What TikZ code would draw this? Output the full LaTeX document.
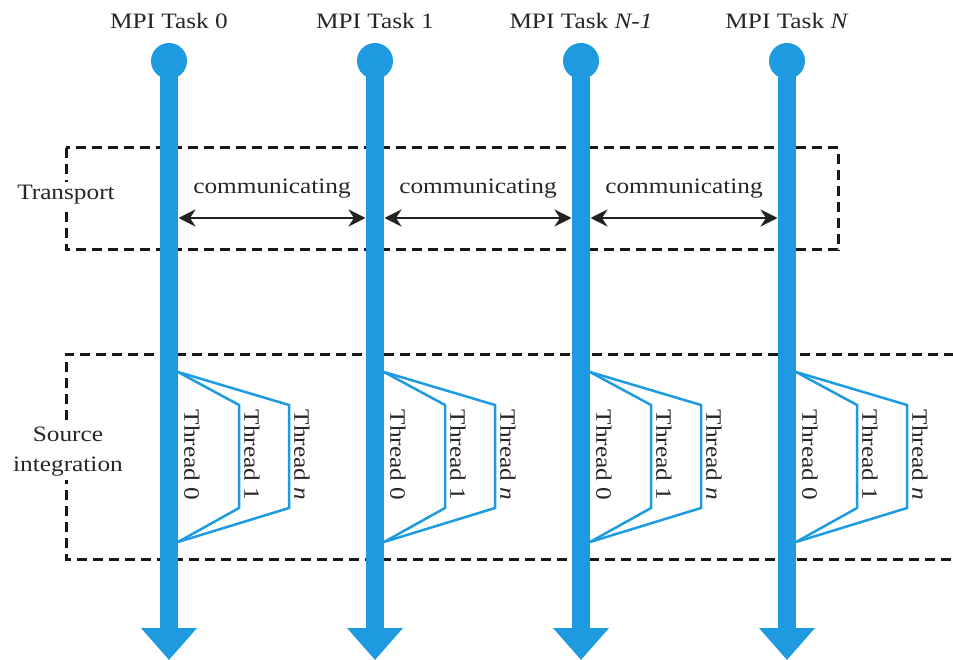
\documentclass[tikz,border=0pt]{standalone}
\usepackage{fontspec}
\setmainfont[FakeStretch=1.15]{Liberation Serif}
\usetikzlibrary{arrows.meta}
\definecolor{mpiblue}{HTML}{1E9BE0}
\definecolor{arrowdark}{HTML}{222222}
\begin{document}
\begin{tikzpicture}[x=1pt,y=-1pt,
  lbl/.style={font=\fontsize{22}{30}\selectfont, inner sep=2pt, text=black!85},
  bglbl/.style={lbl, fill=white, align=center, inner sep=3pt},
  dashbox/.style={line width=3pt, dash pattern=on 10pt off 6pt, black!90},
  taskline/.style={line width=18pt, mpiblue, -{Triangle[width=54pt,length=32pt]}},
  thr/.style={line width=2.5pt, mpiblue, line join=miter},
  comm/.style={line width=2.5pt, arrowdark, {Stealth[length=17pt,width=17pt]}-{Stealth[length=17pt,width=17pt]}},
  thrlbl/.style={lbl, rotate=-90, inner sep=0pt}]
\useasboundingbox (0,0) rectangle (953,660);

% boxes
\draw[dashbox] (66,148) rectangle (838,250);
\draw[dashbox] (970,354) -- (66,354) -- (66,559) -- (970,559);

% task lines
\foreach \i/\x/\lab in {0/169/{MPI Task 0},1/375/{MPI Task 1},2/581/{MPI Task \textit{N-1}},3/787/{MPI Task \textit{N}}}{
  \coordinate (top\i) at (\x,61);
  \coordinate (bot\i) at (\x,660);
  \node[lbl] (title\i) at (\x,21) {\lab};
  \draw[taskline] (top\i) -- (bot\i);
  \fill[mpiblue] (top\i) circle[radius=18pt];
  % threads
  \coordinate (ta\i) at (\x+9,372);
  \coordinate (tb\i) at (\x+9,542);
  \coordinate (o1a\i) at (\x+70,405);
  \coordinate (o1b\i) at (\x+70,508);
  \coordinate (ona\i) at (\x+120,405);
  \coordinate (onb\i) at (\x+120,508);
  \draw[thr] (ta\i) -- (o1a\i) -- (o1b\i) -- (tb\i);
  \draw[thr] (ta\i) -- (ona\i) -- (onb\i) -- (tb\i);
  \node[thrlbl] (th0\i) at (\x+23,455) {Thread 0};
  \node[thrlbl] (th1\i) at (\x+83,455) {Thread 1};
  \node[thrlbl] (thn\i) at (\x+133,455) {Thread \textit{n}};
}

% communication arrows
\foreach \a/\b/\m in {0/1/272,1/2/478,2/3/684}{
  \coordinate (cs\a) at ([xshift=9.5pt]top\a |- 0,218);
  \coordinate (ce\a) at ([xshift=-9.5pt]top\b |- 0,218);
  \draw[comm] (cs\a) -- (ce\a);
  \node[lbl] (cl\a) at (\m,189) {communicating};
}

\node[bglbl] (transport) at (66,195) {Transport};
\node[bglbl] (source) at (68,452) {Source\\integration};
\end{tikzpicture}
\end{document}
